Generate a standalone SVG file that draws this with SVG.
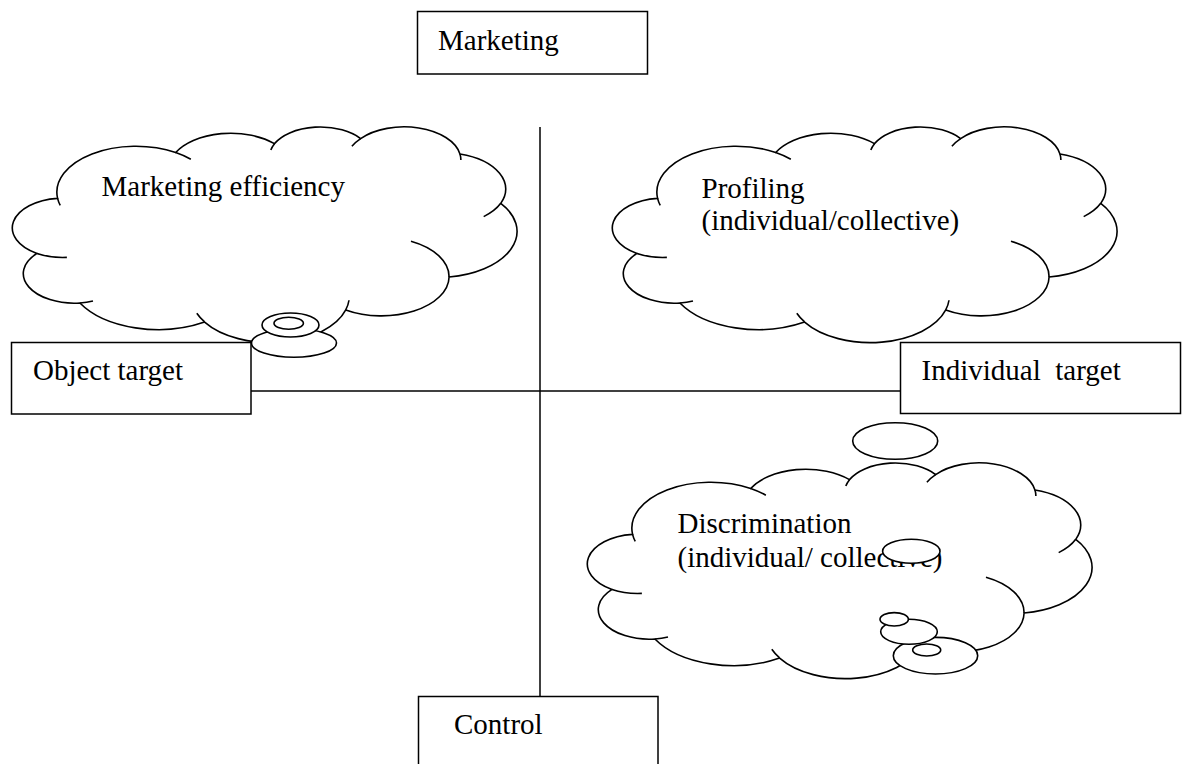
<svg xmlns="http://www.w3.org/2000/svg" xmlns:xlink="http://www.w3.org/1999/xlink" width="1182" height="764" viewBox="0 0 1182 764">
<style>
.box{fill:#fff;stroke:#000;stroke-width:1.5}
.line{fill:none;stroke:#000;stroke-width:1.5}
.cl{fill:#fff;stroke:#000;stroke-width:1.6}
.tl{fill:none;stroke:#000;stroke-width:1.6}
.bub{fill:#fff;stroke:#000;stroke-width:1.6}
text{font-family:"Liberation Serif","Times New Roman",serif;font-size:29px;fill:#000;white-space:pre}
</style>
<defs>
<path id="cloudShape" vector-effect="non-scaling-stroke" d="M39 143.7 A67.53 91.9 0 0 1 140.03 51.97 A53.33 72.67 0 0 1 224.54 34.28 A43.65 59.45 0 0 1 298.25 24.1 A48.57 65.95 0 0 1 383.2 55 A53.33 72.73 0 0 1 418.1 153.7 A67.75 92.2 0 0 1 373.9 301 A57.85 78.67 0 0 1 285.5 366.9 A67.52 92.15 0 0 1 164.76 391.2 A77.2 105.43 0 0 1 58.1 353 A43.6 59.18 0 0 1 21.4 253.8 A43.45 59.45 0 0 1 39 143.7 Z"/>
<path id="cloudTails" vector-effect="non-scaling-stroke" d="M46.93 261.77 A43.45 59.45 0 0 1 21.4 253.8 M69.28 348.99 A43.6 59.18 0 0 1 58.1 353 M164.78 390.9 A67.52 92.15 0 0 1 158.09 373.48 M288.27 347.51 A67.52 92.15 0 0 1 285.5 366.9 M341.29 229.54 A57.85 78.67 0 0 1 373.9 301 M418.1 153.7 A53.33 72.73 0 0 1 403.5 180.3 M383.2 55 A48.57 65.95 0 0 1 384 66.9 M290.78 39.52 A48.57 65.95 0 0 1 298.25 24.1 M221.41 47.2 A43.65 59.45 0 0 1 224.54 34.28 M140.03 51.97 A67.53 91.9 0 0 1 153 65.4 M41.27 157.89 A67.53 91.9 0 0 1 39 143.7"/>
</defs>

<g id="connectors">
<line class="line" x1="540" y1="127" x2="540" y2="697"/>
<line class="line" x1="251" y1="391" x2="900" y2="391"/>
</g>

<g id="node-marketing">
<rect class="box" x="417.5" y="11.5" width="230" height="62.5"/>
<text x="438" y="50">Marketing</text>
</g>

<g id="node-object-target">
<rect class="box" x="11.5" y="342.5" width="239.5" height="71.5"/>
<text x="33" y="380">Object target</text>
</g>

<g id="node-individual-target">
<rect class="box" x="900.5" y="342.5" width="280" height="71"/>
<text x="921.5" y="380">Individual  target</text>
</g>

<g id="node-control">
<rect class="box" x="418.5" y="696.5" width="239.5" height="80"/>
<text x="454" y="734">Control</text>
</g>

<g id="node-marketing-efficiency">
<g transform="translate(12 126.5) scale(1.16898 0.5)">
<use xlink:href="#cloudShape" class="cl"/>
<use xlink:href="#cloudTails" class="tl"/>
</g>
<text x="101.5" y="196">Marketing efficiency</text>
<ellipse class="bub" cx="294" cy="343" rx="42.5" ry="14.3"/>
<ellipse class="bub" cx="290.5" cy="325" rx="28.5" ry="12"/>
<ellipse class="bub" cx="288.7" cy="323.3" rx="14.7" ry="6"/>
</g>

<g id="node-profiling">
<g transform="translate(612 126.5) scale(1.16898 0.5)">
<use xlink:href="#cloudShape" class="cl"/>
<use xlink:href="#cloudTails" class="tl"/>
</g>
<text x="701.5" y="198">Profiling</text>
<text x="701.5" y="230">(individual/collective)</text>
</g>

<g id="node-discrimination">
<ellipse class="bub" cx="895.2" cy="441" rx="42.5" ry="18.3"/>
<g transform="translate(587 462.5) scale(1.16898 0.5)">
<use xlink:href="#cloudShape" class="cl"/>
<use xlink:href="#cloudTails" class="tl"/>
</g>
<text x="677.5" y="533">Discrimination</text>
<text x="677.5" y="567">(individual/ collective)</text>
<ellipse class="bub" cx="911.3" cy="551.3" rx="28.7" ry="12"/>
<ellipse class="bub" cx="935.5" cy="655.7" rx="42.2" ry="18.3"/>
<ellipse class="bub" cx="926.7" cy="650" rx="14" ry="6"/>
<ellipse class="bub" cx="909" cy="631.8" rx="28.3" ry="12.5"/>
<ellipse class="bub" cx="894.2" cy="619.3" rx="14.2" ry="6.7"/>
</g>
</svg>
